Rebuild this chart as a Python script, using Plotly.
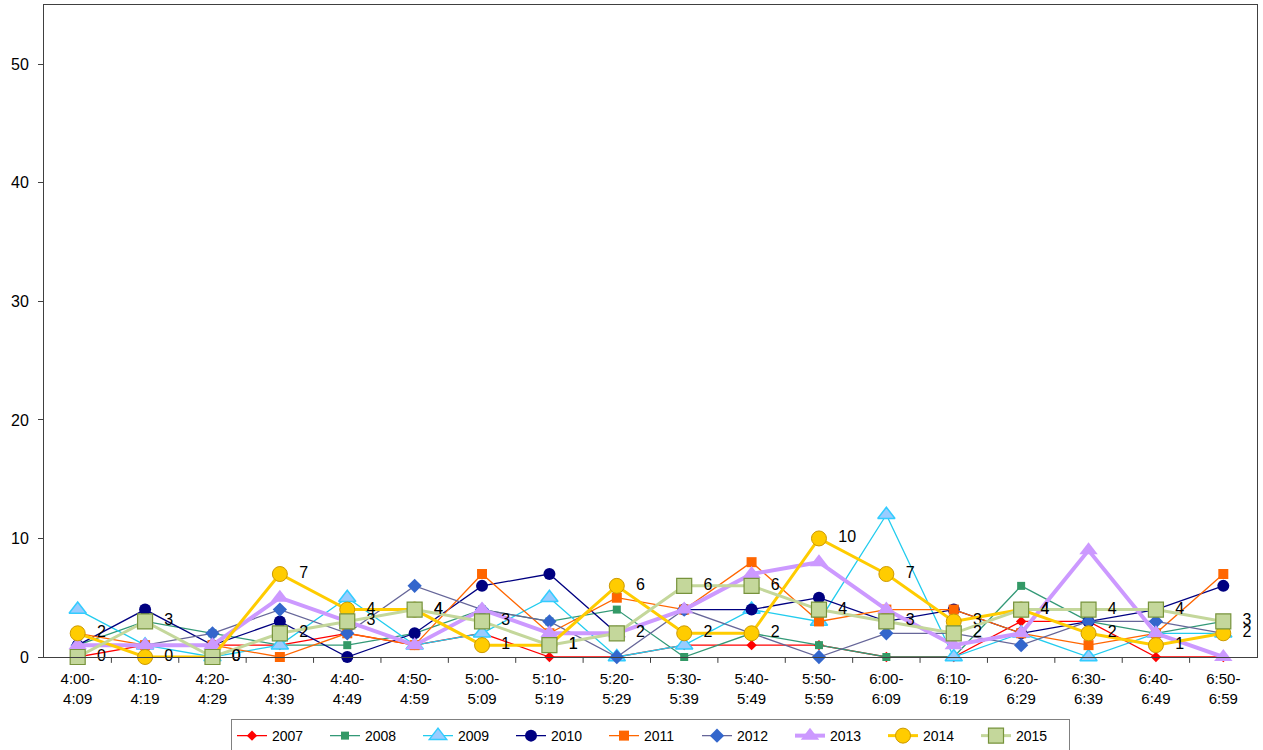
import plotly.graph_objects as go

categories = ["4:00-<br>4:09", "4:10-<br>4:19", "4:20-<br>4:29", "4:30-<br>4:39", "4:40-<br>4:49",
              "4:50-<br>4:59", "5:00-<br>5:09", "5:10-<br>5:19", "5:20-<br>5:29", "5:30-<br>5:39",
              "5:40-<br>5:49", "5:50-<br>5:59", "6:00-<br>6:09", "6:10-<br>6:19", "6:20-<br>6:29",
              "6:30-<br>6:39", "6:40-<br>6:49", "6:50-<br>6:59"]

y2007 = [0, 1, 1, 1, 2, 1, 2, 0, 0, 1, 1, 1, 0, 0, 3, 3, 0, 0]
y2008 = [1, 3, 2, 1, 1, 2, 4, 3, 4, 0, 2, 1, 0, 0, 6, 3, 2, 3]
y2009 = [4, 1, 0, 1, 5, 1, 2, 5, 0, 1, 4, 3, 12, 0, 2, 0, 2, 2]
y2010 = [1, 4, 1, 3, 0, 2, 6, 7, 2, 4, 4, 5, 3, 4, 2, 3, 4, 6]
y2011 = [2, 1, 1, 0, 2, 1, 7, 2, 5, 4, 8, 3, 4, 4, 2, 1, 2, 7]
y2012 = [1, 1, 2, 4, 2, 6, 4, 3, 0, 4, 2, 0, 2, 2, 1, 3, 3, 2]
y2013 = [1, 1, 1, 5, 3, 1, 4, 2, 2, 4, 7, 8, 4, 1, 2, 9, 2, 0]
y2014 = [2, 0, 0, 7, 4, 4, 1, 1, 6, 2, 2, 10, 7, 3, 4, 2, 1, 2]
y2015 = [0, 3, 0, 2, 3, 4, 3, 1, 2, 6, 6, 4, 3, 2, 4, 4, 4, 3]

x = list(range(len(categories)))

series = [
    ("2007", y2007, dict(color="#FF0000", width=1.3), dict(symbol="diamond", size=8, color="#FF0000"), False),
    ("2008", y2008, dict(color="#339977", width=1.3), dict(symbol="square", size=8, color="#339966"), False),
    ("2009", y2009, dict(color="#22CCEE", width=1.3), dict(symbol="triangle-up", size=15, color="#99CCFF",
                                                          line=dict(color="#33CCFF", width=1.5)), False),
    ("2010", y2010, dict(color="#000080", width=1.3), dict(symbol="circle", size=12, color="#000080"), False),
    ("2011", y2011, dict(color="#FF6600", width=1.3), dict(symbol="square", size=10, color="#FF6600"), False),
    ("2012", y2012, dict(color="#666699", width=1.3), dict(symbol="diamond", size=11, color="#3366CC"), False),
    ("2013", y2013, dict(color="#CC99FF", width=4), dict(symbol="triangle-up", size=16, color="#CC99FF"), False),
    ("2014", y2014, dict(color="#FFCC00", width=3), dict(symbol="circle", size=15, color="#FFCC00",
                                                       line=dict(color="#CC9900", width=1)), True),
    ("2015", y2015, dict(color="#C4D79B", width=3), dict(symbol="square", size=15, color="#C4D79B",
                                                       line=dict(color="#77933C", width=1.2)), True),
]

fig = go.Figure()
for name, ys, line, marker, labels in series:
    fig.add_trace(go.Scatter(
        x=x, y=ys, name=name, mode="lines+markers+text" if labels else "lines+markers",
        line=line, marker=marker,
        text=[f"  {v}" for v in ys] if labels else None,
        textposition="middle right",
        textfont=dict(family="Liberation Sans, Arial", size=16, color="#000000"),
        cliponaxis=False,
    ))

fig.update_layout(
    width=1263, height=750,
    margin=dict(l=44, r=6, t=5, b=93),
    paper_bgcolor="white", plot_bgcolor="white",
    font=dict(family="Liberation Sans, Arial", size=15, color="#000000"),
    showlegend=True,
    legend=dict(orientation="h", x=0.5, xanchor="center", y=0.0413, yanchor="top", yref="container",
                bordercolor="#808080", borderwidth=1, font=dict(size=14),
                itemwidth=30, tracegroupgap=0, entrywidth=48, entrywidthmode="pixels"),
    xaxis=dict(range=[-0.5, 17.5], tickmode="array", tickvals=x, ticktext=categories,
               showgrid=False, zeroline=False, showline=True, linecolor="#404040", linewidth=1,
               ticks="", mirror=True, tickfont=dict(size=15), ticklabelstandoff=8),
    yaxis=dict(range=[0, 55], tickvals=[0, 10, 20, 30, 40, 50], showgrid=False, zeroline=False,
               showline=True, linecolor="#404040", linewidth=1, ticks="outside", ticklen=5,
               tickcolor="#404040", mirror=True, tickfont=dict(size=16), ticklabelstandoff=6),
)

# category-boundary tick marks on x-axis
for i in range(1, len(categories)):
    fig.add_shape(type="line", xref="x", yref="paper", x0=i - 0.5, x1=i - 0.5, y0=0, y1=-0.009,
                  line=dict(color="#404040", width=1))

fig.write_html("out.html")
